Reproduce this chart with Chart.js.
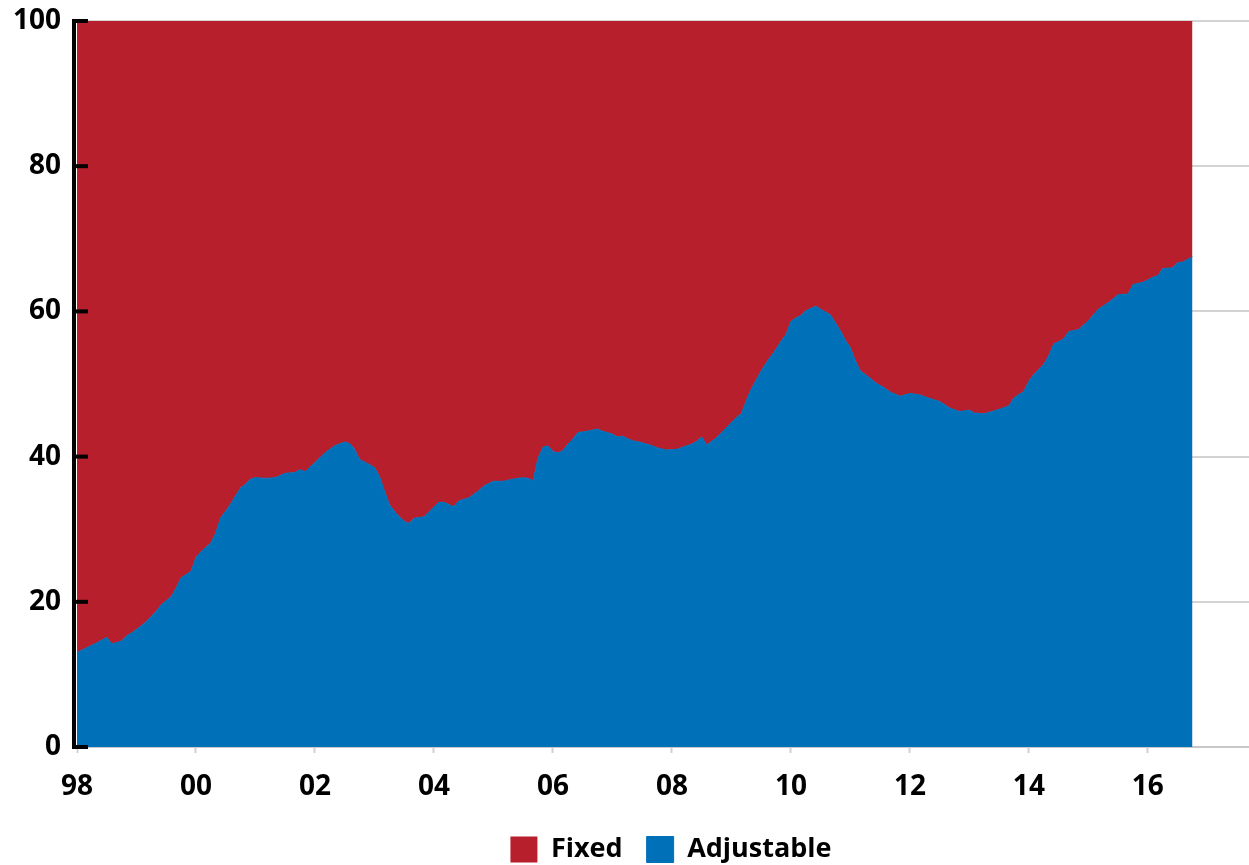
<!DOCTYPE html>
<html>
<head>
<meta charset="utf-8">
<title>Fixed vs Adjustable</title>
<script src="https://cdn.jsdelivr.net/npm/chart.js@4/dist/chart.umd.min.js"></script>
<style>
  html, body { margin: 0; padding: 0; background: #ffffff; }
  #wrap { width: 1249px; height: 865px; }
</style>
</head>
<body>
<div id="wrap"><canvas id="chart" width="1249" height="865"></canvas></div>
<script>
// Observation months (YYYY-MM)
const months = [
  '1998-01','1998-04','1998-06','1998-07','1998-08','1998-10','1998-11','1998-12',
  '1999-02','1999-03','1999-05','1999-06','1999-08','1999-09','1999-10','1999-12',
  '2000-01','2000-02','2000-04','2000-05','2000-06','2000-07','2000-08','2000-09','2000-10','2000-11','2000-12',
  '2001-01','2001-03','2001-05','2001-07','2001-09','2001-10','2001-11',
  '2002-01','2002-03','2002-05','2002-07','2002-08','2002-09','2002-10','2002-12',
  '2003-01','2003-02','2003-03','2003-04','2003-05','2003-06','2003-07','2003-08','2003-09','2003-11','2003-12',
  '2004-02','2004-03','2004-04','2004-05','2004-06','2004-08','2004-10','2004-11',
  '2005-01','2005-03','2005-05','2005-07','2005-08','2005-09','2005-10','2005-11','2005-12',
  '2006-01','2006-02','2006-03','2006-04','2006-05','2006-06','2006-08','2006-10','2006-11',
  '2007-01','2007-02','2007-03','2007-05','2007-07','2007-09','2007-10','2007-12',
  '2008-02','2008-04','2008-05','2008-06','2008-07','2008-08','2008-10','2008-11',
  '2009-01','2009-02','2009-03','2009-04','2009-05','2009-07','2009-08','2009-10','2009-11','2009-12',
  '2010-01','2010-02','2010-03','2010-04','2010-05','2010-06','2010-07','2010-09','2010-10','2010-11','2010-12',
  '2011-01','2011-02','2011-03','2011-05','2011-06','2011-08','2011-09','2011-11','2011-12',
  '2012-01','2012-03','2012-05','2012-07','2012-09','2012-11',
  '2013-01','2013-02','2013-04','2013-05','2013-07','2013-09','2013-10','2013-12',
  '2014-01','2014-02','2014-04','2014-05','2014-06','2014-08','2014-09','2014-11',
  '2015-01','2015-03','2015-05','2015-07','2015-09','2015-10','2015-12',
  '2016-02','2016-03','2016-04','2016-06','2016-07','2016-08','2016-10'
];

// Adjustable-rate share of the total, %
const adjustable = [
  13.0,14.0,14.7,15.1,14.2,14.6,15.3,15.7,
  16.7,17.3,18.7,19.6,20.7,21.9,23.3,24.2,
  26.1,26.9,28.1,29.5,31.6,32.5,33.5,34.6,35.7,36.2,36.9,
  37.1,37.0,37.1,37.7,37.8,38.2,37.9,
  39.2,40.5,41.5,42.0,41.8,41.0,39.6,38.9,
  38.5,37.3,35.3,33.4,32.5,31.7,31.1,30.8,31.5,31.7,32.4,
  33.7,33.7,33.4,33.1,33.9,34.3,35.3,35.9,
  36.6,36.6,36.9,37.1,37.0,36.7,39.8,41.3,41.5,
  40.7,40.5,40.8,41.7,42.4,43.3,43.5,43.8,43.5,
  43.1,42.7,42.8,42.2,41.9,41.5,41.2,40.9,
  41.0,41.5,41.7,42.1,42.7,41.6,42.6,43.3,
  44.7,45.4,45.9,47.7,49.3,51.8,52.9,54.8,55.9,56.8,
  58.6,59.1,59.4,60.1,60.4,60.7,60.3,59.5,58.4,57.3,56.0,
  55.0,53.2,51.8,50.8,50.2,49.4,48.9,48.3,48.5,
  48.7,48.5,48.0,47.6,46.7,46.2,
  46.4,46.0,45.9,46.1,46.5,47.0,48.1,49.0,
  50.4,51.3,52.7,53.9,55.5,56.2,57.2,57.5,
  58.7,60.3,61.2,62.3,62.4,63.7,64.0,
  64.7,64.9,65.9,66.0,66.7,66.8,67.5
];

// The two shares add up to 100
const fixed = adjustable.map(v => 100 - v);

// Years labelled on the horizontal axis
const tickYears = [1998, 2000, 2002, 2004, 2006, 2008, 2010, 2012, 2014, 2016];

const START_YEAR = 1998;
const AXIS_END_MONTH = 236.4;

const RED = '#B81F2D';
const BLUE = '#0070B9';
const FONT = "'Open Sans', 'Noto Sans', sans-serif";

function monthIndex(s) {
  const [y, m] = s.split('-').map(Number);
  return (y - START_YEAR) * 12 + (m - 1);
}

const adjPoints = months.map((s, i) => ({ x: monthIndex(s), y: adjustable[i] }));
const fixPoints = months.map((s, i) => ({ x: monthIndex(s), y: fixed[i] }));
const tickMonths = tickYears.map(y => (y - START_YEAR) * 12);

// Black left axis with short inward tick marks
const leftAxisMarks = {
  id: 'leftAxisMarks',
  afterDatasetsDraw(chart) {
    const { ctx, chartArea, scales: { y } } = chart;
    const top = y.getPixelForValue(100);
    const bottom = y.getPixelForValue(0);
    ctx.save();
    ctx.fillStyle = '#000000';
    ctx.fillRect(chartArea.left - 5, top - 2, 4, bottom - top + 4);
    y.ticks.forEach(t => {
      const py = y.getPixelForValue(t.value);
      ctx.fillRect(chartArea.left - 5, py - 2, 16, 4);
    });
    ctx.restore();
  }
};

// Centre the legend under the plotting area, nudged slightly right
const legendOffset = {
  id: 'legendOffset',
  afterLayout(chart) {
    if (chart.legend) {
      chart.legend.left += 8;
      chart.legend.right += 8;
    }
  }
};

new Chart(document.getElementById('chart'), {
  type: 'line',
  data: {
    datasets: [
      {
        label: 'Adjustable',
        data: adjPoints,
        backgroundColor: BLUE,
        borderColor: BLUE,
        borderWidth: 1,
        pointRadius: 0,
        fill: 'origin',
        tension: 0
      },
      {
        label: 'Fixed',
        data: fixPoints,
        backgroundColor: RED,
        borderColor: RED,
        borderWidth: 0,
        pointRadius: 0,
        fill: '-1',
        tension: 0
      }
    ]
  },
  options: {
    responsive: false,
    animation: false,
    events: [],
    layout: { padding: { top: 21, right: 0, bottom: -8, left: 0 } },
    plugins: {
      legend: {
        position: 'bottom',
        fullSize: false,
        reverse: true,
        labels: {
          boxWidth: 27,
          boxHeight: 26,
          padding: 24,
          color: '#000000',
          font: { family: FONT, size: 27, weight: 'bold' }
        }
      },
      tooltip: { enabled: false }
    },
    scales: {
      x: {
        type: 'linear',
        min: 0,
        max: AXIS_END_MONTH,
        afterBuildTicks: s => { s.ticks = tickMonths.map(v => ({ value: v })); },
        afterFit: s => { s.height = 65; s.paddingRight = 0; },
        ticks: {
          autoSkip: false,
          maxRotation: 0,
          padding: 17,
          color: '#000000',
          font: { family: FONT, size: 28, weight: 'bold' },
          callback: v => String(START_YEAR + v / 12).slice(2)
        },
        grid: {
          drawOnChartArea: false,
          drawTicks: true,
          tickLength: 6,
          tickWidth: 2,
          tickColor: '#d0d0d0'
        },
        border: { display: true, color: '#c8c8c8', width: 2 }
      },
      y: {
        stacked: true,
        min: 0,
        max: 100,
        afterFit: s => { s.width = 77; s.paddingTop = 0; s.paddingBottom = 0; },
        ticks: {
          stepSize: 20,
          padding: 16,
          color: '#000000',
          font: { family: FONT, size: 28, weight: 'bold' }
        },
        grid: {
          color: '#d3d3d3',
          lineWidth: 2,
          drawTicks: false
        },
        border: { display: false }
      }
    }
  },
  plugins: [leftAxisMarks, legendOffset]
});
</script>
</body>
</html>
